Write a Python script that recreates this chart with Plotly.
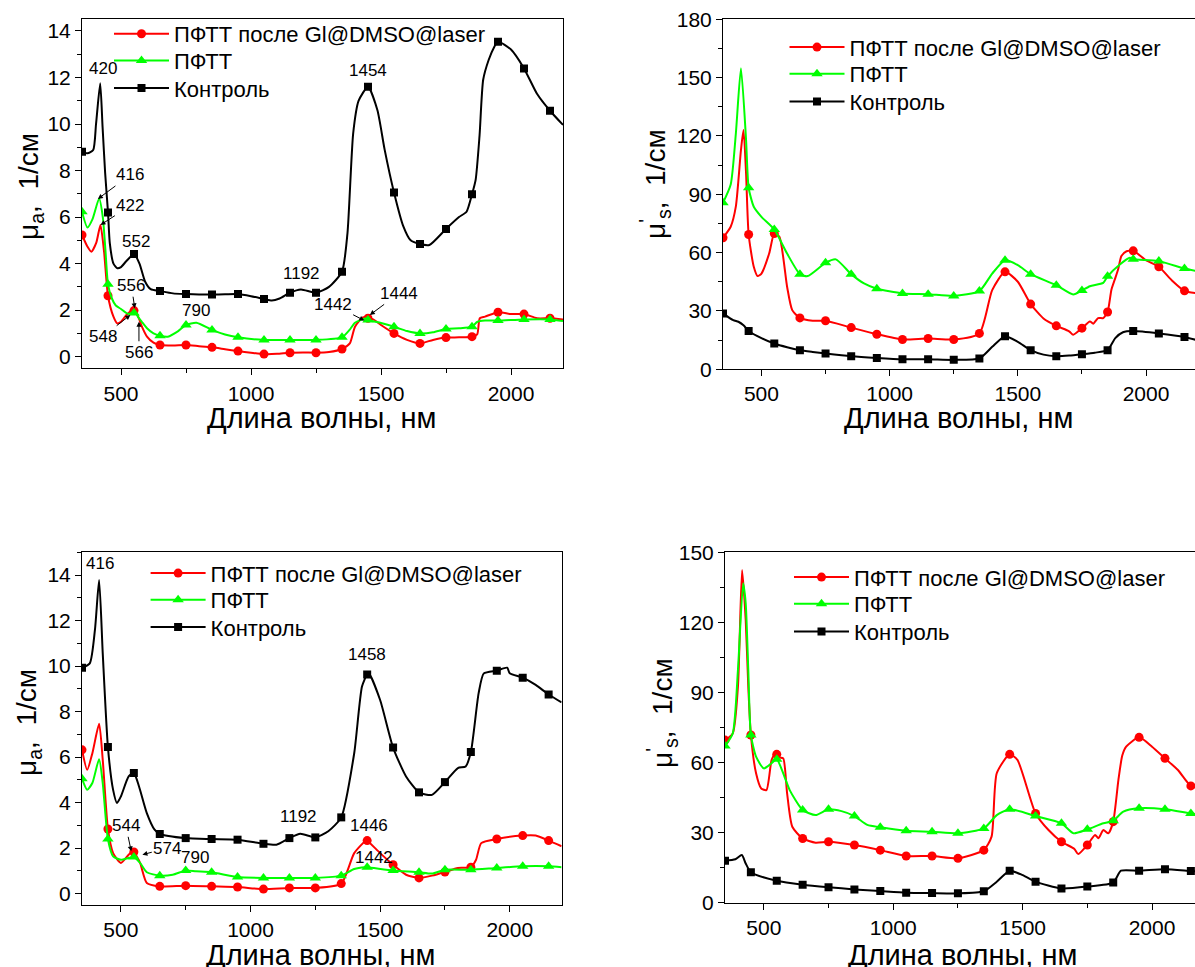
import plotly.graph_objects as go

W, H = 1195, 967

# ---------------- data ----------------
MARKER_WL = [350, 450, 550, 650, 750, 850, 950, 1050, 1150, 1250, 1350,
             1450, 1550, 1650, 1750, 1850, 1950, 2050, 2150]

SERIES_NAMES = ["ПФТТ после Gl@DMSO@laser", "ПФТТ", "Контроль"]

# ---- top-left: mu_a ----
tl_red_wl = [350, 370, 386, 405, 421, 435, 450, 471, 486, 500, 521, 543, 550, 566, 580, 600, 625, 650,
             700, 750, 800, 850, 900, 950, 1000, 1050, 1100, 1150, 1200, 1250, 1300, 1350, 1380, 1400,
             1430, 1450, 1470, 1500, 1550, 1600, 1650, 1700, 1750, 1800, 1850, 1870, 1880, 1900, 1950,
             2000, 2050, 2100, 2150, 2200]
tl_red = [5.23, 4.75, 4.51, 4.9, 5.66, 4.5, 2.62, 1.72, 1.43, 1.5, 1.79, 2.0, 1.98, 1.72, 1.3, 0.86, 0.6, 0.5,
          0.48, 0.5, 0.45, 0.4, 0.32, 0.24, 0.17, 0.11, 0.12, 0.17, 0.18, 0.17, 0.2, 0.33, 0.57, 1.29,
          1.69, 1.65, 1.6, 1.36, 1.0, 0.72, 0.57, 0.72, 0.82, 0.83, 0.86, 0.96, 1.65, 1.72, 1.91,
          1.83, 1.83, 1.65, 1.65, 1.6]
tl_green_wl = [350, 371, 390, 416, 430, 440, 450, 465, 480, 500, 525, 550, 556, 566, 580, 600, 625, 650,
               680, 720, 750, 790, 850, 900, 950, 1050, 1150, 1250, 1350, 1379, 1400, 1444, 1450, 1500,
               1550, 1600, 1650, 1700, 1750, 1800, 1850, 1871, 1900, 1950, 2050, 2150, 2200]
tl_green = [6.23, 5.55, 5.9, 6.8, 6.0, 4.6, 3.11, 2.5, 2.2, 2.05, 1.85, 1.88, 1.9, 1.7, 1.5, 1.22, 1.0, 0.9,
            0.86, 1.1, 1.36, 1.46, 1.15, 0.95, 0.83, 0.72, 0.72, 0.72, 0.83, 1.15, 1.46, 1.65, 1.58, 1.45,
            1.29, 1.1, 1.0, 1.05, 1.19, 1.22, 1.29, 1.5, 1.55, 1.55, 1.6, 1.6, 1.53]
tl_black_wl = [350, 371, 393, 404, 420, 429, 439, 450, 457, 471, 486, 500, 520, 550, 571, 593, 614, 650,
               700, 750, 800, 850, 900, 950, 1000, 1050, 1080, 1110, 1150, 1192, 1250, 1300, 1350, 1371,
               1393, 1414, 1450, 1486, 1514, 1550, 1586, 1614, 1650, 1686, 1750, 1800, 1829, 1850, 1864,
               1879, 1893, 1914, 1935, 1950, 2000, 2050, 2100, 2150, 2200]
tl_black = [8.81, 8.74, 8.88, 10.0, 11.75, 9.9, 7.9, 6.2, 4.87, 4.0, 3.8, 3.85, 4.1, 4.41, 4.0, 3.22, 2.9, 2.82,
            2.72, 2.69, 2.67, 2.67, 2.68, 2.69, 2.6, 2.48, 2.41, 2.5, 2.75, 2.89, 2.75, 3.0, 3.65, 5.3,
            9.6, 11.0, 11.6, 10.6, 8.9, 7.06, 5.6, 5.0, 4.84, 4.8, 5.49, 6.0, 6.23, 6.98, 7.6,
            9.5, 11.9, 12.75, 13.3, 13.54, 13.2, 12.39, 11.3, 10.57, 9.96]

# ---- top-right: mu_s' ----
tr_red_wl = [350, 380, 400, 420, 430, 440, 450, 470, 485, 500, 530, 550, 570, 600, 620, 650, 700, 750,
             850, 950, 1050, 1150, 1250, 1350, 1400, 1450, 1500, 1550, 1600, 1650, 1700, 1716, 1750,
             1781, 1794, 1813, 1833, 1850, 1865, 1878, 1891, 1904, 1924, 1950, 2000, 2050, 2100, 2150, 2200]
tr_red = [67.6, 73.3, 83.6, 112.7, 123.0, 100.7, 69.3, 52.7, 47.9, 49.2, 59.5, 69.8, 68.1, 42.4, 30.4, 26.4,
          24.9, 24.9, 21.4, 18.0, 15.3, 15.8, 15.3, 18.4, 40.7, 50.1, 45.0, 33.5, 26.1, 22.3, 19.5, 17.7,
          21.1, 24.6, 23.4, 26.3, 26.3, 29.4, 40.9, 46.1, 51.3, 58.2, 60.7, 60.9, 56.1, 52.7, 45.8, 40.3, 39.0]
tr_green_wl = [350, 380, 400, 420, 440, 450, 470, 500, 550, 600, 650, 680, 750, 790, 850, 900, 950, 1050,
               1150, 1250, 1350, 1400, 1450, 1500, 1550, 1650, 1716, 1750, 1781, 1833, 1850, 1898, 1937,
               1950, 2050, 2150, 2200]
tr_green = [85.6, 95.0, 121.0, 154.8, 117.9, 93.3, 83.6, 78.4, 71.9, 59.5, 48.9, 47.9, 54.7, 56.5, 48.9,
            44.1, 41.4, 39.0, 38.6, 37.7, 40.2, 49.2, 56.1, 53.5, 48.9, 43.2, 38.4, 40.5, 42.7, 44.4,
            47.8, 53.9, 57.3, 56.6, 55.6, 51.8, 50.4]
tr_black_wl = [350, 390, 410, 430, 450, 500, 550, 600, 650, 700, 750, 850, 950, 1050, 1150, 1250, 1350,
               1400, 1450, 1500, 1550, 1600, 1650, 1700, 1750, 1800, 1850, 1880, 1910, 1950, 2050, 2150, 2200]
tr_black = [28.7, 25.2, 24.4, 22.6, 19.7, 16.0, 13.2, 11.3, 9.8, 8.9, 8.1, 6.7, 5.8, 5.1, 5.1, 4.8, 5.5,
            11.5, 17.0, 14.1, 9.8, 7.5, 6.7, 7.0, 7.7, 8.5, 9.8, 16.0, 19.0, 19.6, 18.4, 16.6, 14.9]

# ---- bottom-left: mu_a ----
bl_red_wl = [350, 370, 390, 416, 430, 450, 470, 500, 530, 544, 550, 574, 600, 650, 750, 850, 950, 1050,
             1150, 1250, 1350, 1400, 1446, 1450, 1500, 1550, 1600, 1650, 1700, 1750, 1800, 1850, 1870,
             1890, 1950, 2050, 2100, 2150, 2200]
bl_red = [6.32, 5.44, 6.17, 7.46, 5.88, 2.84, 1.78, 1.35, 1.71, 1.86, 1.83, 1.35, 0.47, 0.32, 0.35, 0.32,
          0.29, 0.20, 0.25, 0.25, 0.44, 1.78, 2.34, 2.33, 1.78, 1.27, 0.83, 0.69, 0.79, 0.95, 1.13, 1.16,
          1.49, 2.22, 2.40, 2.55, 2.55, 2.33, 2.08]
bl_green_wl = [350, 370, 390, 416, 430, 450, 470, 500, 530, 550, 574, 600, 650, 700, 750, 790, 850, 950,
               1050, 1150, 1250, 1350, 1400, 1442, 1450, 1550, 1650, 1700, 1750, 1850, 1950, 2050, 2150, 2200]
bl_green = [5.05, 4.56, 4.86, 5.91, 4.86, 2.40, 1.64, 1.49, 1.57, 1.61, 1.35, 0.94, 0.79, 0.83, 1.02, 0.98,
            0.94, 0.73, 0.69, 0.69, 0.69, 0.79, 1.08, 1.16, 1.16, 1.02, 0.94, 0.88, 1.05, 1.05, 1.13, 1.20,
            1.20, 1.16]
bl_black_wl = [350, 380, 400, 416, 430, 450, 470, 485, 500, 530, 550, 570, 600, 630, 650, 750, 850, 950,
               1050, 1100, 1150, 1192, 1250, 1300, 1350, 1400, 1430, 1450, 1458, 1500, 1550, 1600, 1650,
               1700, 1750, 1800, 1830, 1850, 1880, 1900, 1950, 1990, 2000, 2050, 2100, 2150, 2200]
bl_black = [9.93, 10.12, 11.6, 13.78, 10.56, 6.44, 4.56, 3.98, 4.27, 5.15, 5.30, 4.71, 3.54, 2.81, 2.62,
            2.44, 2.40, 2.37, 2.19, 2.15, 2.44, 2.63, 2.47, 2.74, 3.35, 6.17, 9.10, 9.63, 9.65, 8.51, 6.42,
            5.15, 4.45, 4.34, 4.90, 5.52, 5.59, 6.22, 8.81, 9.68, 9.80, 9.93, 9.68, 9.49, 9.17, 8.75, 8.40]

# ---- bottom-right: mu_s' ----
br_red_wl = [350, 380, 400, 416, 430, 440, 450, 470, 490, 510, 530, 545, 550, 560, 575, 590, 610, 650, 700,
             750, 850, 950, 1050, 1150, 1250, 1350, 1380, 1400, 1450, 1480, 1550, 1600, 1650, 1700, 1715,
             1750, 1780, 1793, 1812, 1831, 1850, 1870, 1885, 1900, 1950, 2000, 2050, 2100, 2150, 2200]
br_red = [69.6, 72.5, 92.5, 142.4, 121.0, 92.5, 71.8, 55.4, 48.9, 48.2, 61.1, 64.2, 63.5, 62.2, 61.8, 46.8,
          32.5, 27.5, 25.7, 26.1, 24.7, 22.5, 20.0, 20.0, 19.0, 22.5, 28.3, 55.4, 63.5, 61.1, 38.2, 31.1,
          26.1, 23.0, 20.8, 24.7, 29.0, 27.6, 31.1, 29.7, 34.7, 52.5, 63.0, 66.8, 70.8, 66.8, 61.8, 56.8,
          50.0, 49.0]
br_green_wl = [350, 380, 400, 420, 430, 440, 450, 470, 500, 530, 550, 580, 600, 650, 700, 750, 800, 850, 900,
               950, 1050, 1150, 1250, 1350, 1400, 1450, 1550, 1650, 1696, 1750, 1812, 1850, 1889, 1950,
               2050, 2150, 2200]
br_green = [67.1, 72.5, 99.6, 136.7, 128.2, 99.6, 71.8, 62.5, 57.5, 59.7, 61.4, 53.9, 48.2, 39.7, 37.5,
            40.0, 39.2, 37.1, 33.3, 32.3, 30.8, 30.4, 29.7, 31.8, 37.5, 40.0, 37.1, 34.0, 29.7, 31.4, 34.0,
            35.1, 39.0, 40.4, 40.0, 38.2, 37.5]
br_black_wl = [350, 390, 415, 430, 450, 550, 650, 750, 850, 950, 1050, 1150, 1250, 1350, 1400, 1450, 1500,
               1550, 1650, 1750, 1850, 1880, 1950, 2050, 2150, 2200]
br_black = [18.0, 18.6, 20.4, 16.8, 13.0, 9.4, 7.7, 6.6, 5.7, 5.0, 4.3, 4.1, 4.0, 4.9, 9.0, 13.7, 11.8, 9.0,
            6.1, 6.9, 8.6, 13.7, 13.7, 14.3, 13.6, 13.3]

# peak labels: (text, x, y) and labels with arrows: (text, x_label, y_label, x_head, y_head)
tl_labels = [("420", 430, 12.38), ("552", 557, 4.94), ("790", 790, 2.0), ("1192", 1193, 3.58),
             ("1454", 1450, 12.3)]
tl_arrow_labels = [("416", 536, 7.81, 411, 6.78), ("422", 536, 6.49, 421, 5.66),
                   ("556", 540, 3.05, 553, 2.08), ("548", 429, 0.86, 536, 1.79),
                   ("566", 569, 0.19, 569, 1.5), ("1442", 1314, 2.26, 1436, 1.55),
                   ("1444", 1569, 2.72, 1457, 1.79)]
bl_labels = [("416", 421, 14.5), ("1458", 1449, 10.49), ("1192", 1184, 3.39), ("1446", 1456, 2.98),
             ("1442", 1476, 1.57), ("790", 786, 1.57)]
bl_arrow_labels = [("544", 519, 2.98, 540, 1.86), ("574", 679, 2.0, 583, 1.71)]

# ---------------- figure ----------------
FONT = "Arial, Liberation Sans, sans-serif"
RED, GREEN, BLACK = "#ff0000", "#00ff00", "#000000"
STYLES = [(RED, "circle", 9), (GREEN, "triangle-up", 10), (BLACK, "square", 8)]

fig = go.Figure()

panels = [
    dict(n=1, data=[(tl_red_wl, tl_red), (tl_green_wl, tl_green), (tl_black_wl, tl_black)],
         xdom=[82 / W, 563 / W], ydom=[1 - 368.3 / H, 1 - 19.3 / H], xr=[350, 2200], yr=[-0.5, 14.5],
         dt=2, mdt=1, leg_x=175, leg_y=[34, 60.7, 88.3]),
    dict(n=2, data=[(tr_red_wl, tr_red), (tr_green_wl, tr_green), (tr_black_wl, tr_black)],
         xdom=[723 / W, 1.0], ydom=[1 - 369.2 / H, 1 - 19.3 / H], xr=[350, 2191], yr=[0, 180],
         dt=30, mdt=15, leg_x=850.5, leg_y=[47.3, 74, 101.7]),
    dict(n=3, data=[(bl_red_wl, bl_red), (bl_green_wl, bl_green), (bl_black_wl, bl_black)],
         xdom=[82 / W, 561.6 / W], ydom=[1 - 905 / H, 1 - 552.3 / H], xr=[350, 2200], yr=[-0.5, 15],
         dt=2, mdt=1, leg_x=211.6, leg_y=[573.3, 600, 627.3]),
    dict(n=4, data=[(br_red_wl, br_red), (br_green_wl, br_green), (br_black_wl, br_black)],
         xdom=[725 / W, 1.0], ydom=[1 - 902.7 / H, 1 - 552.3 / H], xr=[350, 2166], yr=[0, 150],
         dt=30, mdt=15, leg_x=855, leg_y=[577.3, 604, 631.7]),
]

ITEMW = 55
layout = {}
leg_idx = 0
for p in panels:
    n = p["n"]
    xa = "x" if n == 1 else f"x{n}"
    ya = "y" if n == 1 else f"y{n}"
    for k, ((wl, vals), (col, sym, ms), name) in enumerate(zip(p["data"], STYLES, SERIES_NAMES)):
        fig.add_trace(go.Scatter(x=wl, y=vals, mode="lines", line=dict(color=col, width=2, shape="spline",
                                 smoothing=0.6), xaxis=xa, yaxis=ya, showlegend=False, hoverinfo="skip"))
        mx = [w for w in wl if w in MARKER_WL]
        my = [v for w, v in zip(wl, vals) if w in MARKER_WL]
        fig.add_trace(go.Scatter(x=mx, y=my, mode="markers", marker=dict(color=col, symbol=sym, size=ms),
                                 xaxis=xa, yaxis=ya, showlegend=False, hoverinfo="skip"))
        leg_idx += 1
        lname = "legend" if leg_idx == 1 else f"legend{leg_idx}"
        fig.add_trace(go.Scatter(x=[None], y=[None], mode="lines+markers", name=name,
                                 line=dict(color=col, width=2), marker=dict(color=col, symbol=sym, size=ms),
                                 xaxis=xa, yaxis=ya, legend=lname))
        layout[lname] = dict(x=(p["leg_x"] - ITEMW - 11) / W, y=1 - p["leg_y"][k] / H,
                             xanchor="left", yanchor="middle", itemwidth=ITEMW,
                             font=dict(family=FONT, size=22, color="black"), bgcolor="rgba(0,0,0,0)",
                             borderwidth=0)
    common = dict(showline=True, linecolor="black", linewidth=1, mirror=True, ticks="outside",
                  ticklen=6, tickwidth=1, tickcolor="black", showgrid=False, zeroline=False,
                  automargin=False, tickfont=dict(family=FONT, size=21, color="black"))
    layout["xaxis" if n == 1 else f"xaxis{n}"] = dict(
        domain=p["xdom"], range=p["xr"], anchor=ya, tick0=0, dtick=500,
        minor=dict(dtick=250, ticks="outside", ticklen=4, tickcolor="black"), **common)
    layout["yaxis" if n == 1 else f"yaxis{n}"] = dict(
        domain=p["ydom"], range=p["yr"], anchor=xa, tick0=0, dtick=p["dt"],
        minor=dict(dtick=p["mdt"], ticks="outside", ticklen=4, tickcolor="black"), **common)
    # inside ticks on the mirrored (top / right) sides
    layout[f"xaxis{n + 4}"] = dict(overlaying=xa, side="top", anchor=ya, range=p["xr"], tick0=0, dtick=500,
                                   ticks="inside", ticklen=5, tickcolor="black", showticklabels=False,
                                   showgrid=False, zeroline=False, showline=False, automargin=False,
                                   minor=dict(dtick=250, ticks="inside", ticklen=3, tickcolor="black"))
    layout[f"yaxis{n + 4}"] = dict(overlaying=ya, side="right", anchor=xa, range=p["yr"], tick0=0,
                                   dtick=p["dt"], ticks="inside", ticklen=5, tickcolor="black",
                                   showticklabels=False, showgrid=False, zeroline=False, showline=False,
                                   automargin=False,
                                   minor=dict(dtick=p["mdt"], ticks="inside", ticklen=3, tickcolor="black"))

ann = []
afont = dict(family=FONT, size=17, color="black")
for labels, alabels, xa, ya in [(tl_labels, tl_arrow_labels, "x", "y"), (bl_labels, bl_arrow_labels, "x3", "y3")]:
    for t, x, y in labels:
        ann.append(dict(text=t, x=x, y=y, xref=xa, yref=ya, showarrow=False, font=afont))
    for t, xl, yl, xh, yh in alabels:
        ann.append(dict(text=t, x=xh, y=yh, ax=xl, ay=yl, xref=xa, yref=ya, axref=xa, ayref=ya,
                        showarrow=True, arrowhead=2, arrowsize=1, arrowwidth=1, arrowcolor="black",
                        standoff=0, font=afont))

tfont = dict(family=FONT, size=29, color="black")
yfont = dict(family=FONT, size=28, color="black")
for cx, cy in [(321, 418), (958, 418), (320, 955), (962, 955)]:
    ann.append(dict(text="Длина волны, нм", x=cx / W, y=1 - cy / H, xref="paper", yref="paper",
                    showarrow=False, font=tfont, xanchor="center", yanchor="middle"))
for cx, cy, t in [(30, 187, "μ<sub>a</sub>,  1/см"), (655, 184, "μ<sup>'</sup><sub>s</sub>,  1/см"),
                  (28, 723, "μ<sub>a</sub>,  1/см"), (662, 713, "μ<sup>'</sup><sub>s</sub>,  1/см")]:
    ann.append(dict(text=t, x=cx / W, y=1 - cy / H, xref="paper", yref="paper", showarrow=False,
                    font=yfont, textangle=-90, xanchor="center", yanchor="middle"))

fig.update_layout(width=W, height=H, margin=dict(l=0, r=0, t=0, b=0, pad=0, autoexpand=False),
                  paper_bgcolor="white", plot_bgcolor="white", annotations=ann, hovermode=False,
                  **layout)
fig.write_html("out.html", config={"displayModeBar": False, "staticPlot": False},
               post_script="document.body.style.margin='0px';document.body.style.overflow='hidden';")
